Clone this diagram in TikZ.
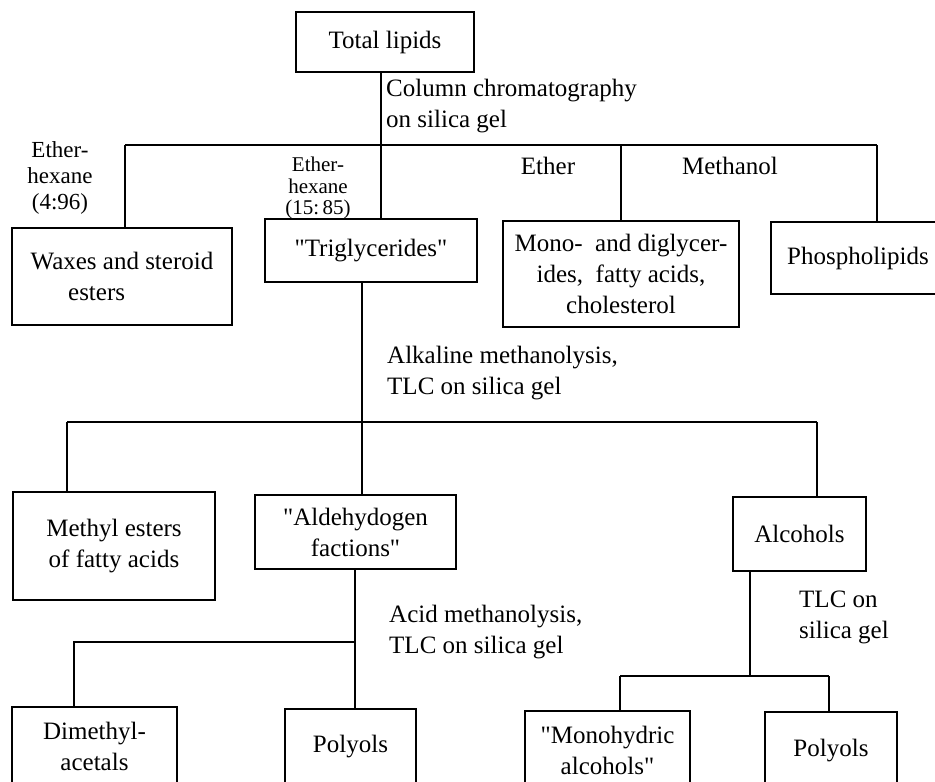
\documentclass[tikz,border=0pt]{standalone}
\usepackage{fontspec}
\setmainfont{Liberation Serif}[Ligatures=TeXOff]
\begin{document}
\begin{tikzpicture}[x=1pt,y=-1pt,
  font=\fontsize{25}{31}\selectfont,
  box/.style={draw,line width=1.5pt,inner sep=0pt,align=center},
  lbl/.style={inner sep=0pt,align=left},
  clbl/.style={inner sep=0pt,align=center},
  conn/.style={line width=1.5pt}]
\useasboundingbox (0,0) rectangle (935,782);
\clip (0,0) rectangle (935,782);
% boxes
\node[box,minimum width=178pt,minimum height=60pt] (total) at (385,42) {Total lipids};
\node[box,minimum width=220pt,minimum height=97pt,align=left] (waxes) at (122,276.5) {Waxes and steroid\\\hspace*{1.5em}esters};
\node[box,minimum width=212pt,minimum height=63pt] (trig) at (371,250.5) {"Triglycerides"};
\node[box,minimum width=236pt,minimum height=106pt] (mono) at (621,274) {Mono- \ and diglycer-\\ides, \ fatty acids,\\cholesterol};
\node[box,minimum width=174pt,minimum height=72pt] (phos) at (858,258) {Phospholipids};
\node[box,minimum width=202pt,minimum height=108pt] (methyl) at (114,546) {Methyl esters\\of fatty acids};
\node[box,minimum width=201pt,minimum height=74pt] (ald) at (355.5,532) {"Aldehydogen\\factions"};
\node[box,minimum width=133pt,minimum height=74pt] (alc) at (799.5,534) {Alcohols};
\node[box,minimum width=165pt,minimum height=78pt] (dim) at (94.5,746) {Dimethyl-\\acetals};
\node[box,minimum width=131pt,minimum height=76pt] (polL) at (350.5,747) {Polyols};
\node[box,minimum width=165pt,minimum height=79pt] (monoh) at (607.5,750.5) {"Monohydric\\alcohols"};
\node[box,minimum width=132pt,minimum height=78pt] (polR) at (831,751) {Polyols};
% junctions
\coordinate (j1) at (381,145);
\coordinate (a1) at (125,145);
\coordinate (a3) at (621,145);
\coordinate (a4) at (877,145);
\coordinate (j2) at (362,422);
\coordinate (b1) at (67,422);
\coordinate (b3) at (817,422);
\coordinate (j3) at (355,642);
\coordinate (c1) at (74,642);
\coordinate (j5) at (750,676);
\coordinate (d1) at (620,676);
\coordinate (d2) at (829,676);
% connectors
\draw[conn] (total.south -| j1) -- (j1);
\draw[conn] (a1) -- (a4);
\draw[conn] (a1) -- (waxes.north -| a1);
\draw[conn] (j1) -- (trig.north -| j1);
\draw[conn] (a3) -- (mono.north -| a3);
\draw[conn] (a4) -- (phos.north -| a4);
\draw[conn] (trig.south -| j2) -- (j2);
\draw[conn] (b1) -- (b3);
\draw[conn] (b1) -- (methyl.north -| b1);
\draw[conn] (j2) -- (ald.north -| j2);
\draw[conn] (b3) -- (alc.north -| b3);
\draw[conn] (ald.south -| j3) -- (polL.north -| j3);
\draw[conn] (j3) -- (c1) -- (dim.north -| c1);
\draw[conn] (alc.south -| j5) -- (j5);
\draw[conn] (d1) -- (d2);
\draw[conn] (d1) -- (monoh.north -| d1);
\draw[conn] (d2) -- (polR.north -| d2);
% labels
\node[lbl,anchor=west] (lcol) at (386,106.5) {Column chromatography\\on silica gel};
\node[clbl,font=\fontsize{23}{26}\selectfont] (leh1) at (60,178) {Ether-\\hexane\\(4:96)};
\node[clbl,font=\fontsize{21}{21.5}\selectfont] (leh2) at (318,188) {Ether-\\hexane\\(15:\,85)};
\node[clbl] (leth) at (548,166) {Ether};
\node[clbl] (lmeth) at (730,166) {Methanol};
\node[lbl,anchor=west] (lalk) at (387,373) {Alkaline methanolysis,\\TLC on silica gel};
\node[lbl,anchor=west] (lacid) at (389,632.5) {Acid methanolysis,\\TLC on silica gel};
\node[lbl,anchor=west] (ltlc) at (799,617.5) {TLC on\\silica gel};
\end{tikzpicture}
\end{document}
